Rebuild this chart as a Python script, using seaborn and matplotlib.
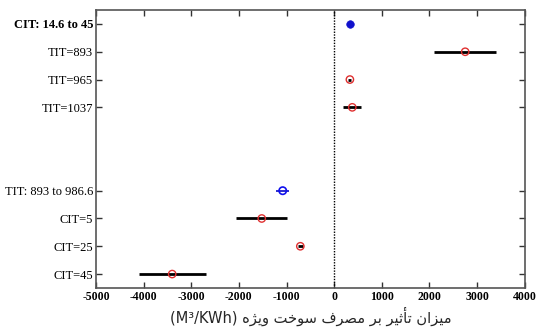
import matplotlib
matplotlib.use("Agg")
import matplotlib.pyplot as plt
import seaborn as sns
import numpy as np
import pandas as pd

# ---- data ----
labels = ["CIT: 14.6 to 45", "TIT=893", "TIT=965", "TIT=1037",
          "TIT: 893 to 986.6", "CIT=5", "CIT=25", "CIT=45"]
effect = [330, 2750, 330, 380, -1080, -1520, -710, -3400]
low = [300, 2100, 300, 190, -1220, -2050, -760, -4100]
high = [360, 3400, 360, 570, -950, -1000, -660, -2700]
group = ["range", "point", "point", "point", "range", "point", "point", "point"]
xticks = [-5000, -4000, -3000, -2000, -1000, 0, 1000, 2000, 3000, 4000]
xlabel_fa = "میزان تأثیر بر مصرف سوخت ویژه"
unit = "(M³/KWh)"

# ---- simple Persian shaping (visual order) ----
FORMS = {
    "م": ("\uFEE1", "\uFEE2", "\uFEE3", "\uFEE4"),
    "ی": ("\uFBFC", "\uFBFD", "\uFBFE", "\uFBFF"),
    "ز": ("\uFEAF", "\uFEB0", None, None),
    "ا": ("\uFE8D", "\uFE8E", None, None),
    "ن": ("\uFEE5", "\uFEE6", "\uFEE7", "\uFEE8"),
    "ت": ("\uFE95", "\uFE96", "\uFE97", "\uFE98"),
    "أ": ("\uFE83", "\uFE84", None, None),
    "ث": ("\uFE99", "\uFE9A", "\uFE9B", "\uFE9C"),
    "ر": ("\uFEAD", "\uFEAE", None, None),
    "ب": ("\uFE8F", "\uFE90", "\uFE91", "\uFE92"),
    "ص": ("\uFEB9", "\uFEBA", "\uFEBB", "\uFEBC"),
    "ف": ("\uFED1", "\uFED2", "\uFED3", "\uFED4"),
    "س": ("\uFEB1", "\uFEB2", "\uFEB3", "\uFEB4"),
    "و": ("\uFEED", "\uFEEE", None, None),
    "خ": ("\uFEA5", "\uFEA6", "\uFEA7", "\uFEA8"),
    "ژ": ("\uFB8A", "\uFB8B", None, None),
    "ه": ("\uFEE9", "\uFEEA", "\uFEEB", "\uFEEC"),
}

def dual(c):
    f = FORMS.get(c)
    return f is not None and f[2] is not None

def joins(c):
    return c in FORMS

def shape(word):
    out = []
    for i, c in enumerate(word):
        if c not in FORMS:
            out.append(c)
            continue
        prev = word[i - 1] if i > 0 else None
        nxt = word[i + 1] if i + 1 < len(word) else None
        jp = prev is not None and dual(prev)
        jn = nxt is not None and joins(nxt) and dual(c)
        iso, fin, ini, med = FORMS[c]
        if jp and jn:
            out.append(med)
        elif jp:
            out.append(fin)
        elif jn:
            out.append(ini)
        else:
            out.append(iso)
    return "".join(out)

def visual(text):
    words = text.split(" ")
    return " ".join(shape(w)[::-1] for w in words[::-1])

xlabel_text = unit + " " + visual(xlabel_fa)

# ---- figure ----
sns.set_style("ticks")
plt.rcParams["font.family"] = ["Liberation Serif", "DejaVu Sans"]

fig = plt.figure(figsize=(5.36, 3.36), dpi=100)
ax = fig.add_axes([0.179, 0.143, 0.800, 0.827])

rows = [0, 1, 2, 3, 6, 7, 8, 9]
df = pd.DataFrame({"label": labels, "effect": effect, "low": low,
                   "high": high, "group": group, "row": rows})

# error bars
for i, r in df.iterrows():
    col = "#1a1acc" if i == 4 else "black"
    lw = 1.3 if i == 4 else 2.0
    ax.hlines(r["row"], r["low"], r["high"], color=col, lw=lw, zorder=2)

ax.axvline(0, color="black", lw=1.0, ls=(0, (1, 1)), zorder=1)

# markers
filled = df.iloc[[0]]
blue_open = df.iloc[[4]]
red_open = df.iloc[[1, 2, 3, 5, 6, 7]]
sns.scatterplot(data=filled, x="effect", y="row", ax=ax, s=30,
                color="#1010cc", edgecolor="#1010cc", zorder=3, legend=False)
sns.scatterplot(data=blue_open, x="effect", y="row", ax=ax, s=28,
                facecolor="none", edgecolor="#1010ee", linewidth=1.2, zorder=3, legend=False)
sns.scatterplot(data=red_open, x="effect", y="row", ax=ax, s=28,
                facecolor="none", edgecolor="#e03030", linewidth=1.0, zorder=3, legend=False)

ax.set_xlim(-5000, 4000)
ax.set_ylim(9.5, -0.5)
ax.set_xticks(xticks)
ax.set_xticklabels([str(t) for t in xticks], fontweight="bold", fontsize=8.5)
ax.set_yticks(rows)
ax.set_yticklabels(labels, fontsize=9)
ax.get_yticklabels()[0].set_fontweight("bold")
ax.set_ylabel("")
ax.set_xlabel(xlabel_text, fontsize=10.5, family=["DejaVu Sans"], labelpad=3)

ax.tick_params(direction="in", length=4, width=1.0, top=True, right=True,
               colors="#333333", labelcolor="black", pad=2)
for s in ax.spines.values():
    s.set_visible(True)
    s.set_color("#555555")
    s.set_linewidth(1.2)

fig.savefig("out.png", dpi=100)
